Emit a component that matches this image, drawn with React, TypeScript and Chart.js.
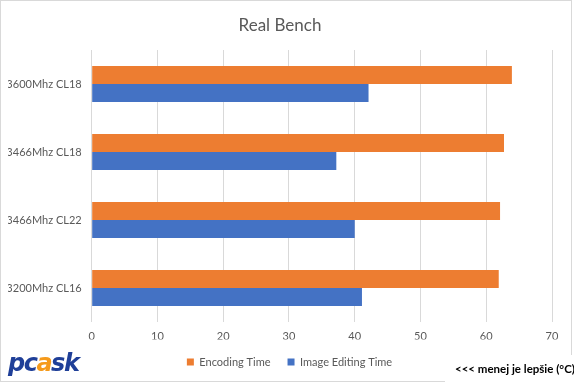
import React, { useEffect, useRef } from "react";
import { Chart, registerables } from "chart.js";

Chart.register(...registerables);

const categories = ["3600Mhz CL18", "3466Mhz CL18", "3466Mhz CL22", "3200Mhz CL16"];
const encodingTime = [63.9, 62.7, 62.1, 61.9];
const imageEditingTime = [42.1, 37.2, 40.0, 41.1];
const seriesNames = ["Encoding Time", "Image Editing Time"];
const xMin = 0;
const xMax = 70;
const xStep = 10;
const titleText = "Real Bench";
const noteText = "<<< menej je lepšie (°C)";

const FONT = "Lato, 'Open Sans', sans-serif";
const GREY = "#595959";

const legendShift = {
  id: "legendShift",
  afterLayout(chart: any) {
    const lg = chart.legend;
    if (lg) {
      lg.left += 9.5;
      lg.right += 9.5;
    }
  },
};

export default function App() {
  const ref = useRef<HTMLCanvasElement | null>(null);

  useEffect(() => {
    const canvas = ref.current;
    if (!canvas) return;
    const chart = new Chart(canvas, {
      type: "bar",
      data: {
        labels: categories,
        datasets: [
          {
            label: seriesNames[0],
            data: encodingTime,
            backgroundColor: "#ED7D31",
            borderWidth: 0,
          },
          {
            label: seriesNames[1],
            data: imageEditingTime,
            backgroundColor: "#4472C4",
            borderWidth: 0,
          },
        ],
      },
      plugins: [legendShift],
      options: {
        indexAxis: "y",
        animation: false,
        responsive: false,
        maintainAspectRatio: false,
        layout: { padding: { left: 8, right: 22, top: 0, bottom: 5.5 } },
        datasets: {
          bar: { categoryPercentage: 0.53, barPercentage: 1 },
        },
        plugins: {
          title: {
            display: true,
            text: titleText,
            color: GREY,
            font: { family: FONT, size: 17, weight: "normal" },
            padding: { top: 15.5, bottom: 14.1 },
          },
          legend: {
            display: true,
            position: "bottom",
            labels: {
              color: GREY,
              font: { family: FONT, size: 11 },
              boxWidth: 7,
              boxHeight: 7,
              padding: 17,
            },
          },
          tooltip: { enabled: false },
        },
        scales: {
          x: {
            type: "linear",
            min: xMin,
            max: xMax,
            ticks: {
              stepSize: xStep,
              color: GREY,
              font: { family: FONT, size: 11 },
              padding: 8,
            },
            grid: { color: "#d9d9d9", lineWidth: 1, drawTicks: false },
            border: { display: false },
            afterFit: (scale: any) => {
              scale.height = 17.5;
            },
          },
          y: {
            ticks: {
              color: GREY,
              font: { family: FONT, size: 11 },
              padding: 10,
            },
            grid: { display: false, drawTicks: false },
            border: { display: false },
            afterFit: (scale: any) => {
              scale.width = 83.7;
            },
          },
        },
      },
    });
    return () => chart.destroy();
  }, []);

  return (
    <div
      style={{
        position: "fixed",
        left: 0,
        top: 0,
        width: 574,
        height: 383,
        background: "#ffffff",
        overflow: "hidden",
      }}
    >
      <canvas ref={ref} width={574} height={383} style={{ position: "absolute", left: 0, top: 0 }} />
      <div
        style={{
          position: "absolute",
          left: 0,
          top: 0,
          width: 572,
          height: 382,
          border: "1px solid #d9d9d9",
          boxSizing: "border-box",
          pointerEvents: "none",
        }}
      />
      <div
        style={{
          position: "absolute",
          left: 8,
          top: 349,
          fontFamily: "'DejaVu Sans', sans-serif",
          fontWeight: 900,
          fontStyle: "italic",
          fontSize: 24,
          letterSpacing: -1.5,
          lineHeight: "28px",
          color: "#1f3f98",
        }}
      >
        pc<span style={{ color: "#f59a1b" }}>a</span>sk
      </div>
      <div
        style={{
          position: "absolute",
          left: 445,
          top: 355,
          width: 129,
          height: 28,
          background: "#ffffff",
          fontFamily: FONT,
          fontWeight: 700,
          fontSize: 11.5,
          color: "#000000",
          lineHeight: "28px",
          paddingLeft: 10,
          boxSizing: "border-box",
          whiteSpace: "nowrap",
        }}
      >
        {noteText}
      </div>
    </div>
  );
}
